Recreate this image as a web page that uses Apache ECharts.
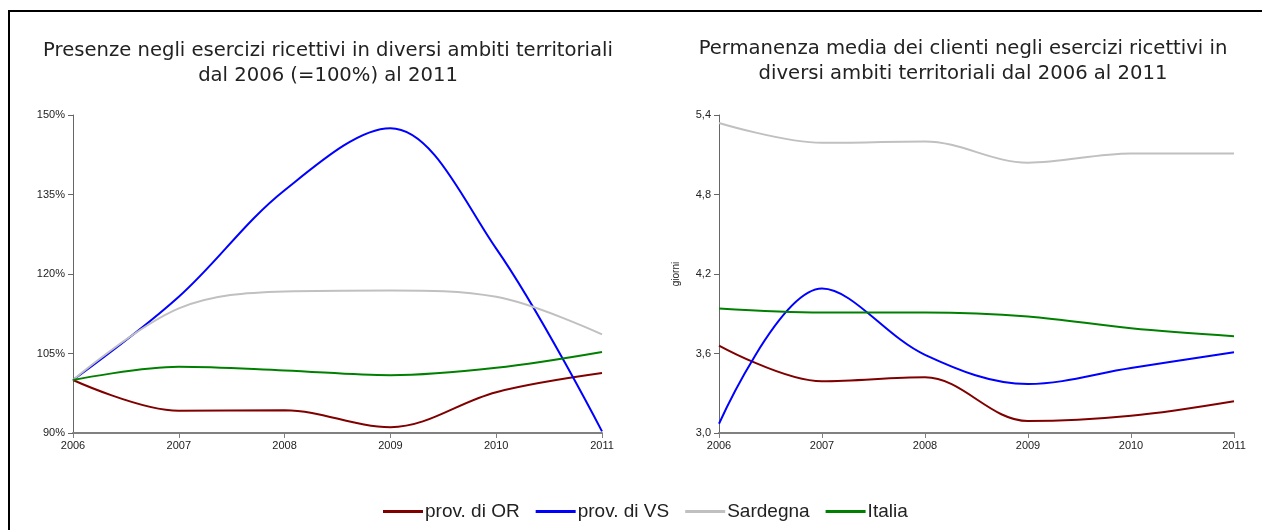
<!DOCTYPE html>
<html>
<head>
<meta charset="utf-8">
<script src="https://cdn.jsdelivr.net/npm/echarts@6/dist/echarts.min.js"></script>
<style>
  html, body { margin: 0; padding: 0; background: #fff; }
  #chart { width: 1262px; height: 530px; }
</style>
</head>
<body>
<div id="chart"></div>
<script>
// anni sull'asse x
const years = ['2006', '2007', '2008', '2009', '2010', '2011']

// presenze, indice 2006 = 100%
const presOR = [100, 94.2, 94.3, 91.1, 97.7, 101.3]
const presVS = [100, 115.7, 135.8, 147.5, 124.8, 90.3]
const presSard = [100, 113.5, 116.7, 116.9, 115.7, 108.6]
const presIta = [100, 102.5, 101.8, 100.9, 102.3, 105.3]

// permanenza media (giorni)
const permOR = [3.66, 3.39, 3.42, 3.09, 3.13, 3.24]
const permVS = [3.07, 4.09, 3.59, 3.37, 3.49, 3.61]
const permSard = [5.34, 5.19, 5.2, 5.04, 5.11, 5.11]
const permIta = [3.94, 3.91, 3.91, 3.88, 3.79, 3.73]

const names = ['prov. di OR', 'prov. di VS', 'Sardegna', 'Italia']
const colors = ['#800000', '#0000ff', '#c0c0c0', '#008000']

const labelFont = { color: '#222', fontSize: 11, fontFamily: 'Liberation Sans' }
const titleFont = { fontSize: 19.6, fontWeight: 'normal', color: '#222', fontFamily: 'DejaVu Sans', lineHeight: 25 }

function xAxis(idx) {
  return {
    type: 'category',
    gridIndex: idx,
    data: years,
    boundaryGap: false,
    axisLine: { lineStyle: { color: '#808080', width: 2 } },
    axisTick: { length: 5, lineStyle: { color: '#808080' } },
    axisLabel: { ...labelFont, margin: 7 },
    splitLine: { show: false },
  }
}

function line(name, data, idx, color) {
  return {
    name: name,
    type: 'line',
    xAxisIndex: idx,
    yAxisIndex: idx,
    data: data,
    smooth: 0.35,
    showSymbol: false,
    lineStyle: { color: color, width: 2 },
    itemStyle: { color: color },
  }
}

let myCharts = echarts.init(document.getElementById('chart'))
let option = {
  animation: false,
  backgroundColor: '#fff',
  title: [
    {
      text: 'Presenze negli esercizi ricettivi in diversi ambiti territoriali\ndal 2006 (=100%) al 2011',
      left: 323,
      top: 33,
      textAlign: 'center',
      textStyle: titleFont,
    },
    {
      text: 'Permanenza media dei clienti negli esercizi ricettivi in\ndiversi ambiti territoriali dal 2006 al 2011',
      left: 958,
      top: 31,
      textAlign: 'center',
      textStyle: titleFont,
    },
  ],
  graphic: [
    {
      type: 'rect',
      shape: { x: 9, y: 11, width: 1400, height: 700 },
      style: { fill: 'none', stroke: '#000', lineWidth: 2 },
      silent: true,
    },
  ],
  legend: {
    data: names,
    top: 497,
    left: 378,
    icon: 'rect',
    itemWidth: 40,
    itemHeight: 3,
    itemGap: 16,
    textStyle: { fontSize: 19, color: '#222', fontFamily: 'Liberation Sans', padding: [0, 0, 0, -3] },
  },
  grid: [
    { left: 73, top: 115, width: 529, height: 318 },
    { left: 719, top: 115, width: 515, height: 318 },
  ],
  xAxis: [xAxis(0), xAxis(1)],
  yAxis: [
    {
      type: 'value',
      gridIndex: 0,
      min: 90,
      max: 150,
      interval: 15,
      axisLine: { show: true, lineStyle: { color: '#666', width: 1 } },
      axisTick: { show: true, length: 5, lineStyle: { color: '#666' } },
      axisLabel: { ...labelFont, margin: 8, formatter: '{value}%' },
      splitLine: { show: false },
    },
    {
      type: 'value',
      gridIndex: 1,
      min: 3.0,
      max: 5.4,
      interval: 0.6,
      name: 'giorni',
      nameLocation: 'middle',
      nameGap: 38,
      nameRotate: 90,
      nameTextStyle: { ...labelFont, fontSize: 10 },
      axisLine: { show: true, lineStyle: { color: '#666', width: 1 } },
      axisTick: { show: true, length: 5, lineStyle: { color: '#666' } },
      axisLabel: { ...labelFont, margin: 8, formatter: (v) => v.toFixed(1).replace('.', ',') },
      splitLine: { show: false },
    },
  ],
  series: [
    line(names[0], presOR, 0, colors[0]),
    line(names[1], presVS, 0, colors[1]),
    line(names[2], presSard, 0, colors[2]),
    line(names[3], presIta, 0, colors[3]),
    line(names[0], permOR, 1, colors[0]),
    line(names[1], permVS, 1, colors[1]),
    line(names[2], permSard, 1, colors[2]),
    line(names[3], permIta, 1, colors[3]),
  ],
}
myCharts.setOption(option)
</script>
</body>
</html>
